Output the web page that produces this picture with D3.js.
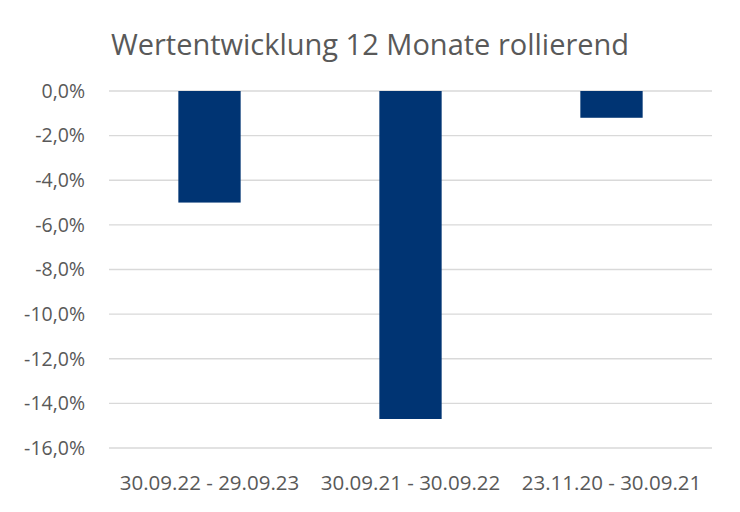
<!DOCTYPE html>
<html>
<head>
<meta charset="utf-8">
<script src="https://cdn.jsdelivr.net/npm/d3@7"></script>
<style>
  html, body { margin: 0; padding: 0; background: #fff; }
  svg { display: block; font-family: "Open Sans", "Noto Sans", sans-serif; }
</style>
</head>
<body>
<svg id="chart" width="740" height="512"></svg>
<script>
const title = "Wertentwicklung 12 Monate rollierend";
const categories = ["30.09.22 - 29.09.23", "30.09.21 - 30.09.22", "23.11.20 - 30.09.21"];
const values = [-5.0, -14.7, -1.2];
const yTicks = [0, -2, -4, -6, -8, -10, -12, -14, -16];

const svg = d3.select("#chart");
const margin = { left: 109, right: 28, top: 91, bottom: 64 };
const W = 740, H = 512;

const x = d3.scaleBand()
  .domain(categories)
  .range([margin.left, W - margin.right])
  .paddingInner(0.69)
  .paddingOuter(0.345);

const y = d3.scaleLinear()
  .domain([0, -16])
  .range([margin.top, H - margin.bottom]);

const fmt = v => d3.format(".1f")(v).replace(".", ",").replace("−", "-") + "%";

// gridlines
svg.append("g")
  .selectAll("line")
  .data(yTicks)
  .join("line")
  .attr("x1", margin.left)
  .attr("x2", W - margin.right)
  .attr("y1", d => y(d))
  .attr("y2", d => y(d))
  .attr("stroke", "#d9d9d9")
  .attr("stroke-width", 1.3);

// y axis labels
const yAxis = d3.axisLeft(y).tickValues(yTicks).tickFormat(fmt).tickSize(0).tickPadding(24);
const gy = svg.append("g").attr("transform", `translate(${margin.left},0)`).call(yAxis);
gy.select(".domain").remove();
gy.selectAll("text")
  .attr("fill", "#595959")
  .style("font-size", "19.5px")
  .style("font-family", "'Open Sans', 'Noto Sans', sans-serif");

// bars
svg.append("g")
  .selectAll("rect")
  .data(values)
  .join("rect")
  .attr("x", (d, i) => x(categories[i]))
  .attr("width", x.bandwidth())
  .attr("y", d => y(Math.max(0, d)))
  .attr("height", d => Math.abs(y(d) - y(0)))
  .attr("fill", "#003473");

// x axis labels
const xAxis = d3.axisBottom(x).tickSize(0).tickPadding(27);
const gx = svg.append("g").attr("transform", `translate(0,${H - margin.bottom})`).call(xAxis);
gx.select(".domain").remove();
gx.selectAll("text")
  .attr("fill", "#595959")
  .style("font-size", "20.5px")
  .style("font-family", "'Open Sans', 'Noto Sans', sans-serif");

// title
svg.append("text")
  .attr("x", 370)
  .attr("y", 55)
  .attr("text-anchor", "middle")
  .attr("fill", "#595959")
  .style("font-size", "29px")
  .text(title);
</script>
</body>
</html>
